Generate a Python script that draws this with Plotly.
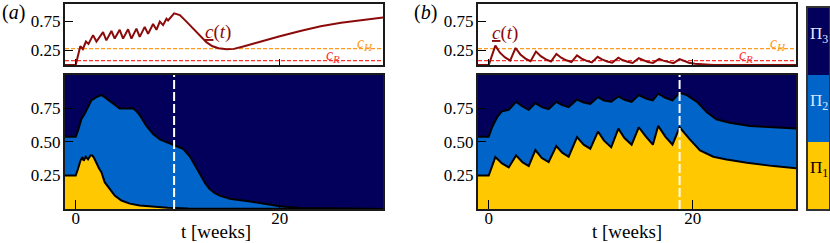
import plotly.graph_objects as go

# ---------------- data ----------------
# panel (a): concentration c(t)
ca_t = [-1.2, 0.0, 0.45, 0.7, 1.0, 1.25, 1.7, 2.03, 2.68, 3.0, 3.5, 3.82, 4.31, 4.64, 5.13, 5.46,
        5.95, 6.27, 6.76, 7.09, 7.58, 7.91, 8.24, 8.56, 8.89, 9.05, 9.64, 10.2, 10.85, 11.5, 12.2,
        12.8, 13.4, 14.0, 14.8, 15.5, 16.5, 17.5, 18.7, 20.0, 22.0, 24.0, 26.0, 28.0, 30.5]
ca_c = [0.0, 0.0, 0.32, 0.27, 0.40, 0.36, 0.51, 0.40, 0.56, 0.42, 0.58, 0.45, 0.60, 0.45, 0.61, 0.45,
        0.62, 0.48, 0.65, 0.53, 0.70, 0.60, 0.74, 0.68, 0.79, 0.76, 0.88, 0.85, 0.74, 0.62, 0.50,
        0.39, 0.32, 0.285, 0.27, 0.275, 0.32, 0.37, 0.43, 0.49, 0.58, 0.66, 0.72, 0.77, 0.82]

# panel (b): concentration c(t)
cb_t = [-1.2, 0.0, 0.65, 1.1, 1.6, 2.1, 2.63, 3.1, 3.6, 4.1, 4.63, 5.1, 5.6, 6.1, 6.63, 7.1, 7.6, 8.1,
        8.65, 9.1, 9.6, 10.1, 10.67, 11.1, 11.6, 12.1, 12.7, 13.1, 13.6, 14.1, 14.7, 15.1, 15.6, 16.1,
        16.7, 17.1, 17.6, 18.1, 18.7, 19.1, 19.6, 20.2, 21.0, 22.0, 30.5]
cb_c = [0.0, 0.0, 0.33, 0.21, 0.13, 0.075, 0.29, 0.18, 0.11, 0.065, 0.23, 0.15, 0.095, 0.06, 0.19, 0.125,
        0.08, 0.05, 0.165, 0.11, 0.07, 0.045, 0.14, 0.095, 0.06, 0.04, 0.125, 0.085, 0.055, 0.035, 0.115,
        0.08, 0.05, 0.035, 0.105, 0.075, 0.048, 0.032, 0.10, 0.07, 0.04, 0.02, 0.008, 0.0, 0.0]

c_H = 0.28
c_R = 0.075

# panel (a): population fractions (boundaries)
pa1_t = [-1.2, 0.0, 0.23, 0.46, 0.65, 0.78, 0.98, 1.21, 1.44, 1.63, 1.8, 2.03, 2.3, 2.52, 2.84, 3.33,
         3.82, 4.48, 5.3, 6.27, 7.58, 9.0, 11.0, 31.0]
pa1 = [0.25, 0.25, 0.30, 0.36, 0.387, 0.36, 0.39, 0.37, 0.40, 0.40, 0.38, 0.337, 0.30, 0.275, 0.20, 0.15,
       0.10, 0.063, 0.04, 0.026, 0.018, 0.01, 0.003, 0.0]
pa12_t = [-1.2, 0.0, 0.23, 0.55, 0.88, 1.2, 1.53, 2.03, 2.52, 2.84, 3.25, 3.66, 4.31, 4.97, 5.62, 5.95,
          6.27, 6.93, 7.58, 8.24, 8.89, 9.7, 10.5, 11.2, 11.7, 12.2, 12.7, 13.1, 13.6, 14.1, 15.1,
          17.1, 19.0, 20.0, 22.0, 31.0]
pa12 = [0.54, 0.54, 0.586, 0.67, 0.71, 0.76, 0.81, 0.835, 0.85, 0.835, 0.81, 0.785, 0.75, 0.75, 0.752, 0.73,
        0.70, 0.62, 0.56, 0.52, 0.50, 0.48, 0.45, 0.39, 0.32, 0.25, 0.19, 0.15, 0.12, 0.10, 0.076,
        0.056, 0.03, 0.02, 0.008, 0.0]

# panel (b): population fractions (boundaries)
pb1_t = [-1.2, 0.0, 0.65, 1.3, 1.96, 2.68, 3.3, 3.92, 4.57, 5.2, 5.87, 6.62, 7.2, 7.83, 8.65, 9.3, 9.95,
         10.7, 11.3, 12.0, 12.7, 13.3, 14.0, 14.7, 15.4, 16.08, 16.6, 17.3, 18.0, 18.7, 19.7, 20.7,
         22.0, 23.3, 25.3, 27.9, 30.5]
pb1 = [0.25, 0.25, 0.387, 0.34, 0.31, 0.40, 0.35, 0.32, 0.44, 0.38, 0.35, 0.47, 0.42, 0.39, 0.536, 0.48, 0.45,
       0.578, 0.51, 0.46, 0.60, 0.53, 0.48, 0.61, 0.54, 0.48, 0.62, 0.54, 0.48, 0.61, 0.52, 0.437,
       0.39, 0.37, 0.345, 0.32, 0.302]
pb12_t = [-1.2, 0.0, 0.33, 0.82, 1.31, 1.96, 2.68, 3.3, 3.92, 4.57, 5.2, 5.87, 6.62, 7.2, 7.83, 8.65, 9.3,
          9.95, 10.7, 11.3, 12.0, 12.7, 13.3, 14.0, 14.7, 15.4, 16.08, 16.6, 17.3, 18.0, 18.7, 19.4,
          20.4, 21.4, 22.3, 23.6, 25.6, 27.9, 30.5]
pb12 = [0.54, 0.54, 0.61, 0.685, 0.73, 0.74, 0.80, 0.765, 0.74, 0.79, 0.76, 0.745, 0.80, 0.775, 0.76, 0.817, 0.795,
        0.785, 0.835, 0.81, 0.80, 0.84, 0.815, 0.80, 0.85, 0.825, 0.81, 0.86, 0.83, 0.81, 0.867, 0.85,
        0.80, 0.72, 0.67, 0.643, 0.62, 0.61, 0.60]

t_stop_a = 9.64
t_stop_b = 18.7

x_ticks = [0, 20]
x_ticktext = ["0", "20"]
top_yticks = [0.25, 0.75]
top_yticktext = ["0.25", "0.75"]
bot_yticks = [0.25, 0.50, 0.75]
bot_yticktext = ["0.25", "0.50", "0.75"]
cbar_labels = ["Π<sub>1</sub>", "Π<sub>2</sub>", "Π<sub>3</sub>"]

# ---------------- style ----------------
NAVY = "#02005a"
BLUE = "#0064c8"
YELLOW = "#ffc800"
DARKRED = "#8b0a0a"
ORANGE = "#ff9a1a"
RED = "#ff3030"
FONT = "Liberation Serif"
XR = [-1.05, 30.1]

fig = go.Figure()


def add_conc(t, c, xa, ya):
    fig.add_trace(go.Scatter(x=XR, y=[c_H, c_H], mode="lines", xaxis=xa, yaxis=ya,
                             line=dict(color=ORANGE, width=1.2, dash="4px,2px")))
    fig.add_trace(go.Scatter(x=XR, y=[c_R, c_R], mode="lines", xaxis=xa, yaxis=ya,
                             line=dict(color=RED, width=1.2, dash="4px,2px")))
    fig.add_trace(go.Scatter(x=t, y=c, mode="lines", xaxis=xa, yaxis=ya,
                             line=dict(color=DARKRED, width=2)))


def add_frac(t1, p1, t12, p12, tstop, xa, ya):
    fig.add_trace(go.Scatter(x=[-2, 32], y=[1, 1], mode="lines", fill="tozeroy", fillcolor=NAVY,
                             line=dict(width=0, color=NAVY), xaxis=xa, yaxis=ya))
    fig.add_trace(go.Scatter(x=t12, y=p12, mode="lines", fill="tozeroy", fillcolor=BLUE,
                             line=dict(width=2, color="black"), xaxis=xa, yaxis=ya))
    fig.add_trace(go.Scatter(x=t1, y=p1, mode="lines", fill="tozeroy", fillcolor=YELLOW,
                             line=dict(width=2, color="black"), xaxis=xa, yaxis=ya))
    fig.add_trace(go.Scatter(x=[tstop, tstop], y=[0, 1], mode="lines",
                             line=dict(width=2, color="white", dash="9px,3px"), xaxis=xa, yaxis=ya))


add_conc(ca_t, ca_c, "x", "y")
add_frac(pa1_t, pa1, pa12_t, pa12, t_stop_a, "x2", "y2")
add_conc(cb_t, cb_c, "x3", "y3")
add_frac(pb1_t, pb1, pb12_t, pb12, t_stop_b, "x4", "y4")

# colour key
for lab, col in zip(cbar_labels, [YELLOW, BLUE, NAVY]):
    fig.add_trace(go.Bar(x=[0], y=[1], width=1, marker=dict(color=col, line=dict(width=0)),
                         xaxis="x5", yaxis="y5"))

frame = dict(showline=True, mirror=True, linecolor="#1a1a1a", linewidth=2, showgrid=False,
             zeroline=False, ticks="inside", tickcolor="black", tickwidth=1.3,
             tickfont=dict(family=FONT, size=17, color="black"))

LX = [0.0783, 0.4614]
RX = [0.5759, 0.959]
TY = [0.7325, 0.9835]
BY = [0.1399, 0.6914]

layout = dict(
    width=830, height=243, margin=dict(l=0, r=0, t=0, b=0),
    paper_bgcolor="white", plot_bgcolor="white", showlegend=False, hovermode=False,
    barmode="stack", bargap=0,
)
axes = {
    "xaxis": dict(domain=LX, anchor="y", range=XR, tickvals=x_ticks, showticklabels=False, ticklen=6),
    "yaxis": dict(domain=TY, anchor="x", range=[0, 1.04], tickvals=top_yticks, ticktext=top_yticktext,
                  ticklen=8, ticklabelstandoff=-1),
    "xaxis2": dict(domain=LX, anchor="y2", range=XR, tickvals=x_ticks, ticktext=x_ticktext, ticklen=9,
                   ticklabelstandoff=-7),
    "yaxis2": dict(domain=BY, anchor="x2", range=[0, 1], tickvals=bot_yticks, ticktext=bot_yticktext,
                   ticklen=8, ticklabelstandoff=-1),
    "xaxis3": dict(domain=RX, anchor="y3", range=XR, tickvals=x_ticks, showticklabels=False, ticklen=6),
    "yaxis3": dict(domain=TY, anchor="x3", range=[0, 1.04], tickvals=top_yticks, ticktext=top_yticktext,
                   ticklen=8, ticklabelstandoff=-1),
    "xaxis4": dict(domain=RX, anchor="y4", range=XR, tickvals=x_ticks, ticktext=x_ticktext, ticklen=9,
                   ticklabelstandoff=-7),
    "yaxis4": dict(domain=BY, anchor="x4", range=[0, 1], tickvals=bot_yticks, ticktext=bot_yticktext,
                   ticklen=8, ticklabelstandoff=-1),
}
for k, v in axes.items():
    d = dict(frame)
    d.update(v)
    layout[k] = d
layout["xaxis5"] = dict(domain=[0.9735, 0.9988], anchor="y5", range=[-0.5, 0.5], showticklabels=False,
                        showline=True, mirror=True, linecolor="#333", linewidth=2, showgrid=False,
                        zeroline=False, ticks="")
layout["yaxis5"] = dict(domain=[0.1399, 0.967], anchor="x5", range=[0, 3], showticklabels=False,
                        showline=True, mirror=True, linecolor="#333", linewidth=2, showgrid=False,
                        zeroline=False, ticks="")
fig.update_layout(**layout)

ann = []
# panel letters
ann.append(dict(text="(<i>a</i>)", x=0.0, y=1 - 13 / 243, xref="paper", yref="paper",
                xanchor="left", yanchor="middle", showarrow=False,
                font=dict(family=FONT, size=20, color="black")))
ann.append(dict(text="(<i>b</i>)", x=412 / 830, y=1 - 13 / 243, xref="paper", yref="paper",
                xanchor="left", yanchor="middle", showarrow=False,
                font=dict(family=FONT, size=20, color="black")))
# c(t) labels
ct_txt = "<span style='text-decoration:underline'><i>c</i></span>(<i>t</i>)"
ann.append(dict(text=ct_txt, x=13.9, y=0.57, xref="x", yref="y", showarrow=False, xanchor="center",
                font=dict(family=FONT, size=19, color=DARKRED)))
ann.append(dict(text=ct_txt, x=1.6, y=0.54, xref="x3", yref="y3", showarrow=False, xanchor="center",
                font=dict(family=FONT, size=19, color=DARKRED)))
for xa, ya in [("x", "y"), ("x3", "y3")]:
    ann.append(dict(text="<i>c<sub>H</sub></i>", x=28.3, y=c_H, xref=xa, yref=ya, showarrow=False,
                    xanchor="center", yanchor="bottom", yshift=-6,
                    font=dict(family=FONT, size=16, color=ORANGE)))
    ann.append(dict(text="<i>c<sub>R</sub></i>", x=25.2, y=c_R, xref=xa, yref=ya, showarrow=False,
                    xanchor="center", yanchor="bottom", yshift=-6,
                    font=dict(family=FONT, size=16, color=RED)))
# axis titles
for xc in [216 / 830, 627 / 830]:
    ann.append(dict(text="t [weeks]", x=xc, y=1 - 231 / 243, xref="paper", yref="paper",
                    showarrow=False, xanchor="center", yanchor="middle",
                    font=dict(family=FONT, size=19, color="black")))
# colour key labels
for i, (lab, fc) in enumerate(zip(cbar_labels, ["black", "#d8e8ff", "#e6e6ff"])):
    ann.append(dict(text=lab, x=0, y=i + 0.5, xref="x5", yref="y5", yshift=7, showarrow=False,
                    xanchor="center", font=dict(family=FONT, size=17, color=fc)))
fig.update_layout(annotations=ann)

fig.write_html("out.html", config={"displayModeBar": False},
               post_script="document.body.style.margin='0px';")
